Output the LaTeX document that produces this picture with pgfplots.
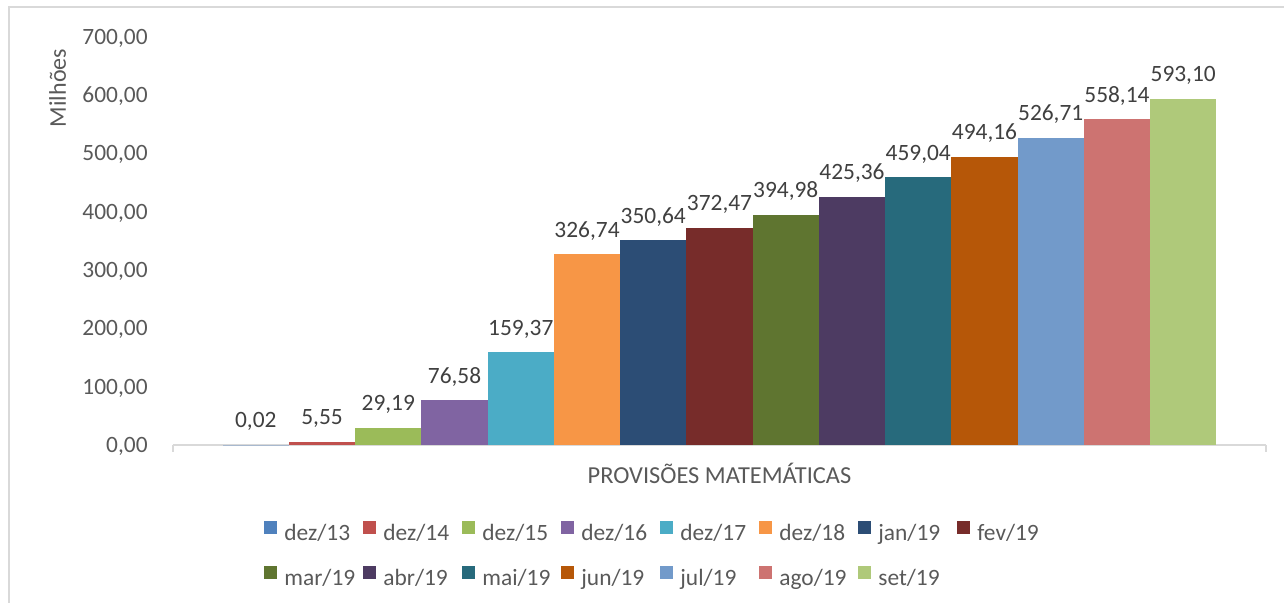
\documentclass[border=0pt]{standalone}
\usepackage{fontspec}
\setmainfont{Carlito}
\usepackage{pgfplots}
\pgfplotsset{compat=1.18}
\definecolor{c1}{HTML}{4F81BD}
\definecolor{c2}{HTML}{C0504D}
\definecolor{c3}{HTML}{9BBB59}
\definecolor{c4}{HTML}{8064A2}
\definecolor{c5}{HTML}{4BACC6}
\definecolor{c6}{HTML}{F79646}
\definecolor{c7}{HTML}{2C4D75}
\definecolor{c8}{HTML}{772C2A}
\definecolor{c9}{HTML}{5F7530}
\definecolor{c10}{HTML}{4D3B62}
\definecolor{c11}{HTML}{276A7C}
\definecolor{c12}{HTML}{B65708}
\definecolor{c13}{HTML}{729ACA}
\definecolor{c14}{HTML}{CD7371}
\definecolor{c15}{HTML}{AFC97A}
\definecolor{axgray}{HTML}{D9D9D9}
\definecolor{txtgray}{HTML}{595959}
\definecolor{lblgray}{HTML}{404040}
\newcommand{\cf}{\fontsize{11.7pt}{14pt}\selectfont}
\begin{document}
\begin{tikzpicture}
\begin{axis}[
  at={(0pt,0pt)}, anchor=south west,
  scale only axis, width=546.5pt, height=204.2pt,
  xmin=-0.25, xmax=16.25, ymin=0, ymax=700,
  clip=false,
  ybar, bar width=1,
  every axis plot/.append style={bar shift=0pt, draw=none},
  ytick={0,100,...,700},
  xtick=\empty,
  major tick length=0pt,
  extra x ticks={-0.25,16.25}, extra x tick labels={},
  extra x tick style={tick align=outside, major tick length=3.5pt, tick style={draw=axgray, line width=1pt}},
  axis x line*=bottom, axis y line*=left,
  x axis line style={draw=axgray, line width=1pt},
  y axis line style={draw=none},
  ytick style={draw=none},
  yticklabel style={anchor=east, inner sep=0pt, text depth=0pt, xshift=-12.5pt, font=\cf, text=txtgray},
  /pgf/number format/fixed, /pgf/number format/fixed zerofill,
  /pgf/number format/precision=2, /pgf/number format/use comma,
  /pgf/number format/1000 sep={}, /pgf/number format/assume math mode=true,
  nodes near coords,
  nodes near coords style={font=\cf, text=lblgray, anchor=base, yshift=8.5pt},
  xlabel={PROVISÕES MATEMÁTICAS},
  every axis x label/.style={at={(axis description cs:0.5,0)}, anchor=base, yshift=-19.5pt, font=\fontsize{12.2pt}{14pt}\selectfont, text=txtgray},
  ylabel={Milhões},
  every axis y label/.style={at={(axis description cs:0,0)}, xshift=-53.5pt, yshift=178.5pt, rotate=90, anchor=base, font=\fontsize{12pt}{14pt}\selectfont, text=txtgray},
  legend columns=8,
  legend style={at={(axis description cs:0,0)}, anchor=north west, xshift=45.5pt, yshift=-38pt,
    draw=none, fill=none, inner sep=0pt, row sep=11pt,
    nodes={font=\cf, text=txtgray, text width=36pt, align=left, inner xsep=3.5pt, inner ysep=0pt, text height=8pt, text depth=2pt}},
  legend image code/.code={\fill[#1] (0pt,0pt) rectangle (6.5pt,6.5pt);},
]
\addplot[fill=c1] coordinates {(1,0.02)};
\addplot[fill=c2] coordinates {(2,5.55)};
\addplot[fill=c3] coordinates {(3,29.19)};
\addplot[fill=c4] coordinates {(4,76.58)};
\addplot[fill=c5] coordinates {(5,159.37)};
\addplot[fill=c6] coordinates {(6,326.74)};
\addplot[fill=c7] coordinates {(7,350.64)};
\addplot[fill=c8] coordinates {(8,372.47)};
\addplot[fill=c9] coordinates {(9,394.98)};
\addplot[fill=c10] coordinates {(10,425.36)};
\addplot[fill=c11] coordinates {(11,459.04)};
\addplot[fill=c12] coordinates {(12,494.16)};
\addplot[fill=c13] coordinates {(13,526.71)};
\addplot[fill=c14] coordinates {(14,558.14)};
\addplot[fill=c15] coordinates {(15,593.10)};
\legend{dez/13,dez/14,dez/15,dez/16,dez/17,dez/18,jan/19,fev/19,mar/19,abr/19,mai/19,jun/19,jul/19,ago/19,set/19}
\end{axis}
\pgfresetboundingbox
\useasboundingbox (-86.5pt,-79pt) rectangle (555.5pt,222.5pt);
\draw[axgray, line width=1pt] (-82pt,-79pt) -- (-82pt,219pt) -- (555.5pt,219pt);
\end{tikzpicture}
\end{document}
